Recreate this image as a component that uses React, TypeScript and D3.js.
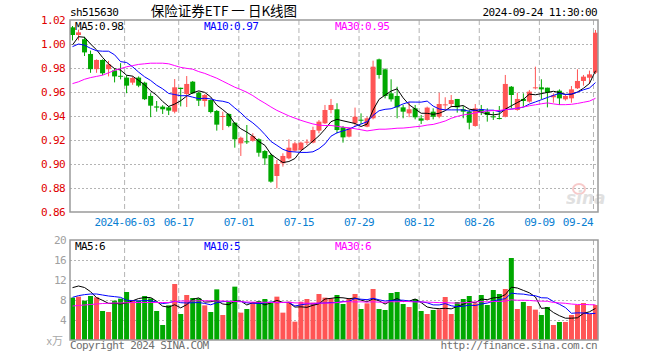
import React from "react";
import * as d3 from "d3";

// ---------- data ----------
const dates = [
  "05-21","05-22","05-23","05-24","05-27","05-28","05-29","05-30","05-31",
  "06-03","06-04","06-05","06-06","06-07","06-11","06-12","06-13","06-14",
  "06-17","06-18","06-19","06-20","06-21","06-24","06-25","06-26","06-27","06-28",
  "07-01","07-02","07-03","07-04","07-05","07-08","07-09","07-10","07-11","07-12",
  "07-15","07-16","07-17","07-18","07-19","07-22","07-23","07-24","07-25","07-26",
  "07-29","07-30","07-31","08-01","08-02","08-05","08-06","08-07","08-08","08-09",
  "08-12","08-13","08-14","08-15","08-16","08-19","08-20","08-21","08-22","08-23",
  "08-26","08-27","08-28","08-29","08-30","09-02","09-03","09-04","09-05","09-06",
  "09-09","09-10","09-11","09-12","09-13","09-18","09-19","09-20","09-23","09-24",
];

const opens = [
  1.0139,1.0075,1.0040,0.9917,0.9790,0.9867,0.9790,0.9780,0.9735,
  0.9720,0.9678,0.9720,0.9678,0.9567,0.9480,0.9478,0.9472,0.9436,
  0.9635,0.9583,0.9686,0.9595,0.9525,0.9533,0.9442,0.9395,0.9417,0.9344,
  0.9172,0.9189,0.9194,0.9206,0.9108,0.9075,0.8900,0.9006,0.9047,0.9111,
  0.9117,0.9183,0.9178,0.9278,0.9339,0.9450,0.9456,0.9306,0.9228,0.9339,
  0.9369,0.9311,0.9381,0.9872,0.9789,0.9589,0.9567,0.9472,0.9422,0.9464,
  0.9380,0.9367,0.9436,0.9394,0.9494,0.9500,0.9542,0.9456,0.9436,0.9317,
  0.9456,0.9436,0.9397,0.9383,0.9394,0.9644,0.9450,0.9542,0.9520,0.9636,
  0.9639,0.9636,0.9556,0.9611,0.9539,0.9547,0.9631,0.9692,0.9719,0.9761,
];
const highs = [
  1.0150,1.0120,1.0060,0.9945,0.9872,0.9872,0.9860,0.9800,0.9840,
  0.9740,0.9730,0.9730,0.9686,0.9590,0.9525,0.9490,0.9483,0.9708,
  0.9636,0.9733,0.9692,0.9603,0.9583,0.9539,0.9450,0.9436,0.9422,0.9350,
  0.9228,0.9325,0.9256,0.9214,0.9117,0.9089,0.9033,0.9089,0.9206,0.9186,
  0.9186,0.9206,0.9311,0.9367,0.9492,0.9542,0.9506,0.9317,0.9303,0.9470,
  0.9422,0.9394,0.9861,0.9878,0.9797,0.9706,0.9644,0.9492,0.9520,0.9492,
  0.9408,0.9478,0.9464,0.9594,0.9556,0.9575,0.9542,0.9483,0.9450,0.9500,
  0.9492,0.9464,0.9436,0.9483,0.9742,0.9650,0.9594,0.9589,0.9617,0.9811,
  0.9706,0.9636,0.9589,0.9622,0.9575,0.9650,0.9789,0.9742,0.9778,1.0117,
];
const lows = [
  1.0030,1.0030,0.9900,0.9760,0.9760,0.9740,0.9730,0.9680,0.9705,
  0.9590,0.9660,0.9640,0.9533,0.9390,0.9436,0.9417,0.9408,0.9422,
  0.9480,0.9475,0.9583,0.9483,0.9478,0.9422,0.9278,0.9283,0.9306,0.9136,
  0.9067,0.9167,0.9186,0.9061,0.8992,0.8844,0.8797,0.8978,0.9039,0.9103,
  0.9111,0.9158,0.9172,0.9256,0.9333,0.9422,0.9256,0.9178,0.9222,0.9311,
  0.9333,0.9306,0.9372,0.9711,0.9547,0.9520,0.9381,0.9381,0.9390,0.9372,
  0.9333,0.9361,0.9372,0.9381,0.9450,0.9472,0.9428,0.9381,0.9289,0.9311,
  0.9408,0.9353,0.9367,0.9372,0.9389,0.9464,0.9444,0.9478,0.9511,0.9622,
  0.9539,0.9472,0.9511,0.9492,0.9528,0.9511,0.9625,0.9653,0.9667,0.9750,
];
const closes = [
  1.0075,1.0097,0.9930,0.9790,0.9867,0.9756,0.9830,0.9730,0.9730,
  0.9653,0.9717,0.9653,0.9540,0.9486,0.9470,0.9456,0.9445,0.9639,
  0.9625,0.9667,0.9589,0.9528,0.9575,0.9433,0.9328,0.9400,0.9317,0.9206,
  0.9219,0.9186,0.9233,0.9094,0.9047,0.8853,0.9000,0.9067,0.9136,0.9172,
  0.9178,0.9186,0.9283,0.9353,0.9450,0.9492,0.9283,0.9222,0.9297,0.9394,
  0.9367,0.9381,0.9811,0.9742,0.9567,0.9539,0.9472,0.9436,0.9456,0.9389,
  0.9361,0.9470,0.9394,0.9500,0.9497,0.9533,0.9472,0.9436,0.9344,0.9464,
  0.9436,0.9408,0.9394,0.9381,0.9667,0.9575,0.9542,0.9525,0.9603,0.9639,
  0.9622,0.9594,0.9572,0.9547,0.9567,0.9622,0.9692,0.9728,0.9747,1.0094,
];
const volumes = [
  8.47,8.67,7.87,8.8,8.53,5.8,5.6,7.87,8.27,
  9.6,7.87,7.87,8.8,8.33,5.8,3.0,6.93,11.2,
  5.2,9.0,8.4,8.33,6.93,5.6,10.13,5.0,7.67,10.67,
  5.47,6.2,7.47,7.8,8.2,7.47,8.67,5.47,7.67,3.67,
  7.67,8.2,7.47,9.2,8.47,8.33,9.0,7.2,8.27,9.2,
  6.2,7.33,10.2,6.2,6.0,9.4,9.6,7.2,6.6,8.2,
  5.8,5.2,6.0,6.13,8.6,5.2,7.6,8.2,8.8,7.33,
  9.0,7.0,10.0,9.2,10.2,16.4,6.2,7.6,6.8,6.07,
  5.0,6.6,3.0,3.6,3.6,5.0,7.0,7.4,5.2,7.0,
];

// moving-average values at the left edge (their history lies before the window)
const priceMa5Head = [0.9992, 1.0061, 1.0056, 1.0000];
const priceMa10Head = [0.9978, 1.0000, 0.9990, 0.9964, 0.9944, 0.9940, 0.9940, 0.9910, 0.9853];
const priceMa30Head = [
  0.967,0.9685,0.9706,0.972,0.973,0.974,0.976,0.978,0.9795,0.981,
  0.982,0.983,0.9835,0.984,0.984,0.984,0.9835,0.982,0.9805,0.9797,
  0.979,0.977,0.9755,0.9735,0.9715,0.969,0.9665,0.964,0.962,
];
const volMa5Head = [10.47, 10.8, 10.5, 9.67];
const volMa10Head = [8.53, 8.87, 9.07, 9.2, 9.2, 9.0, 8.8, 8.67, 8.53];
const volMa30Head = [
  6.8,6.9,7.0,7.1,7.2,7.3,7.35,7.4,7.4,7.45,
  7.5,7.5,7.5,7.5,7.5,7.5,7.5,7.7,7.8,7.8,
  7.8,7.85,7.85,7.85,7.8,7.8,7.7,7.7,7.65,
];

const priceTicks = [1.02, 1.0, 0.98, 0.96, 0.94, 0.92, 0.9, 0.88, 0.86];
const volTicks = [20, 16, 12, 8, 4];
const dateTicks = ["06-03","06-17","07-01","07-15","07-29","08-12","08-26","09-09","09-24"];
const firstDateLabel = "2024-06-03";
const priceLegend = ["MA5:0.98", "MA10:0.97", "MA30:0.95"];
const volLegend = ["MA5:6", "MA10:5", "MA30:6"];
const symbol = "sh515630";
const title = "保险证券ETF 一 日K线图";
const timestamp = "2024-09-24 11:30:00";
const volUnit = "x万";
const copyright = "Copyright 2024 SINA.COM";
const site = "http://finance.sina.com.cn";

// ---------- styling ----------
const RED = "#ff5555";
const GREEN = "#00a800";
const MA_COLORS = ["#000000", "#0000ff", "#ff00ff"];
const MONO = "'DejaVu Sans Mono', 'Liberation Mono', monospace";
const GRID = "#b4b4b4";

function movingAvg(arr: number[], n: number, head: number[]) {
  return arr.map((_, i) => {
    if (i < n - 1) return head[i];
    return d3.mean(arr.slice(i - n + 1, i + 1)) as number;
  });
}

export default function App() {
  const W = 660, H = 360;
  const left = 70, right = 598;
  const pTop = 20, pBot = 212;
  const vTop = 240, vBot = 340;
  const n = closes.length;

  const x = d3.scaleBand<number>().domain(d3.range(n)).range([left, right]).paddingInner(1 / 6).paddingOuter(0);
  const bw = 5;
  const cx = (i: number) => (x(i) as number) + bw / 2;
  const yP = d3.scaleLinear().domain([0.86, 1.02]).range([pBot, pTop]);
  const yV = d3.scaleLinear().domain([0, 20]).range([vBot, vTop]);

  const pMA = [
    movingAvg(closes, 5, priceMa5Head),
    movingAvg(closes, 10, priceMa10Head),
    movingAvg(closes, 30, priceMa30Head),
  ];
  const vMA = [
    movingAvg(volumes, 5, volMa5Head),
    movingAvg(volumes, 10, volMa10Head),
    movingAvg(volumes, 30, volMa30Head),
  ];
  const pLine = d3.line<number>().x((_, i) => cx(i)).y((d) => yP(d));
  const vLine = d3.line<number>().x((_, i) => cx(i)).y((d) => yV(d));

  const tickIdx = dateTicks.map((d) => dates.indexOf(d));
  const txt = { fontFamily: MONO, fontSize: 11, letterSpacing: -0.6 } as const;

  return (
    <svg width={W} height={H} style={{ position: "absolute", left: 0, top: 0, background: "#fff" }}>
      {/* header */}
      <text x={left} y={16} {...txt} fill="#000">{symbol}</text>
      <text x={224} y={15.5} textAnchor="middle" fontFamily="'Noto Sans CJK SC', sans-serif" fontSize={13.5} fill="#000" style={{ whiteSpace: "pre" }}>{title}</text>
      <text x={597} y={16} textAnchor="end" {...txt} fill="#000">{timestamp}</text>

      {/* price grid */}
      {priceTicks.slice(1, -1).map((t) => (
        <line key={"pg" + t} x1={left} x2={right} y1={Math.round(yP(t)) + 0.5} y2={Math.round(yP(t)) + 0.5}
          stroke={GRID} strokeDasharray="2,2" />
      ))}
      {priceTicks.map((t) => (
        <text key={"pl" + t} x={65} y={yP(t)} dy="0.36em" textAnchor="end" {...txt} fill="#e00000">{t.toFixed(2)}</text>
      ))}
      {tickIdx.map((i) => (
        <g key={"vg" + i}>
          <line x1={(x(i) as number) + 0.5} x2={(x(i) as number) + 0.5} y1={pTop} y2={pBot} stroke={GRID} strokeDasharray="5,3" />
          <line x1={(x(i) as number) + 0.5} x2={(x(i) as number) + 0.5} y1={vTop} y2={vBot} stroke={GRID} strokeDasharray="5,3" />
        </g>
      ))}
      {tickIdx.map((i, k) => {
        const last = k === tickIdx.length - 1;
        return (
          <text key={"dl" + i} x={(x(i) as number) + (last ? 0 : 0.5)} y={225.5} textAnchor={last ? "end" : "middle"}
            {...txt} fill="#0a80d2">{k === 0 ? firstDateLabel : dateTicks[k]}</text>
        );
      })}

      {/* watermark */}
      <g opacity={0.55}>
        <ellipse cx={579} cy={189} rx={6} ry={5} fill="none" stroke="#f2a0a0" strokeWidth={2} />
        <text x={566} y={204} fontFamily="'DejaVu Sans', sans-serif" fontStyle="italic" fontWeight="bold" fontSize={17} fill="#c8c8c8">sina</text>
      </g>

      {/* candles */}
      {closes.map((c, i) => {
        const o = opens[i];
        const up = c > o;
        const col = up ? RED : GREEN;
        const yTop = yP(Math.max(o, c));
        const yBot = yP(Math.min(o, c));
        const bx = x(i) as number;
        return (
          <g key={"c" + i}>
            <line x1={bx + 2.5} x2={bx + 2.5} y1={yP(highs[i])} y2={yP(lows[i])} stroke={col} strokeWidth={1} />
            <rect x={bx} y={yTop} width={bw} height={Math.max(1, yBot - yTop)} fill={col} />
          </g>
        );
      })}
      {pMA.map((arr, k) => (
        <path key={"pm" + k} d={pLine(arr) as string} fill="none" stroke={MA_COLORS[k]} strokeWidth={1} />
      ))}
      <rect x={left} y={pTop} width={right - left} height={pBot - pTop} fill="none" stroke="#9a9a9a" strokeWidth={1.5} />
      {priceLegend.map((s, k) => (
        <text key={"plg" + k} x={[75, 204, 335][k]} y={29.5} {...txt} fill={MA_COLORS[k]}>{s}</text>
      ))}

      {/* volume panel */}
      {volTicks.slice(1).map((t) => (
        <line key={"vgl" + t} x1={left} x2={right} y1={Math.round(yV(t)) + 0.5} y2={Math.round(yV(t)) + 0.5}
          stroke={GRID} strokeDasharray="2,2" />
      ))}
      {volTicks.map((t) => (
        <text key={"vl" + t} x={66} y={yV(t)} dy="0.36em" textAnchor="end" {...txt} fill="#a0a0a0">{t}</text>
      ))}
      <text x={63} y={345} textAnchor="end" fontFamily="'Noto Sans CJK SC', sans-serif" fontSize={11} fill="#a8a8a8">{volUnit}</text>
      {volumes.map((v, i) => {
        const up = closes[i] > opens[i];
        return (
          <rect key={"v" + i} x={x(i) as number} y={yV(v)} width={bw} height={yV(0) - yV(v)} fill={up ? RED : GREEN} />
        );
      })}
      {vMA.map((arr, k) => (
        <path key={"vm" + k} d={vLine(arr) as string} fill="none" stroke={MA_COLORS[k]} strokeWidth={1} />
      ))}
      <rect x={left} y={vTop} width={right - left} height={vBot - vTop} fill="none" stroke="#9a9a9a" strokeWidth={1.5} />
      {volLegend.map((s, k) => (
        <text key={"vlg" + k} x={[75, 204, 335][k]} y={249.5} {...txt} fill={MA_COLORS[k]}>{s}</text>
      ))}

      {/* footer */}
      <text x={left} y={349} {...txt} fill="#707070">{copyright}</text>
      <text x={597} y={349} textAnchor="end" {...txt} fill="#707070">{site}</text>
    </svg>
  );
}
